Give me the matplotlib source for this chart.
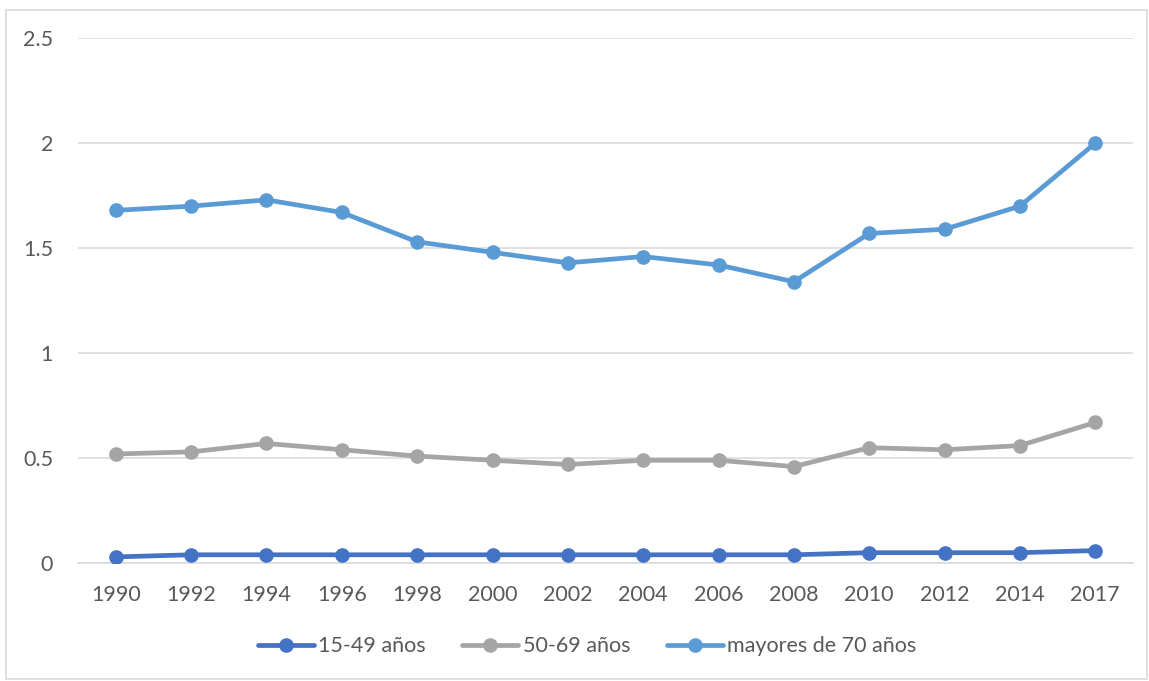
import matplotlib
matplotlib.use("Agg")
from matplotlib import pyplot as plt
from matplotlib.patches import Rectangle

# datos
years = ["1990", "1992", "1994", "1996", "1998", "2000", "2002",
         "2004", "2006", "2008", "2010", "2012", "2014", "2017"]
grupo_15_49 = [0.03, 0.04, 0.04, 0.04, 0.04, 0.04, 0.04,
               0.04, 0.04, 0.04, 0.05, 0.05, 0.05, 0.06]
grupo_50_69 = [0.52, 0.53, 0.57, 0.54, 0.51, 0.49, 0.47,
               0.49, 0.49, 0.46, 0.55, 0.54, 0.56, 0.67]
grupo_70 = [1.68, 1.70, 1.73, 1.67, 1.53, 1.48, 1.43,
            1.46, 1.42, 1.34, 1.57, 1.59, 1.70, 2.00]

plt.rcParams['font.family'] = ['Lato', 'DejaVu Sans']

fig = plt.figure(figsize=(11.49, 6.81), dpi=100)
ax = fig.add_axes([0.068, 0.173, 0.918, 0.771])

x = range(len(years))
series = [
    (grupo_15_49, "#4472C4", "15-49 años"),
    (grupo_50_69, "#A5A5A5", "50-69 años"),
    (grupo_70, "#5B9BD5", "mayores de 70 años"),
]
for vals, col, lab in series:
    ax.plot(x, vals, color=col, lw=3.4, marker="o", ms=9.5,
            solid_capstyle="round", label=lab, zorder=3)

ax.set_xlim(-0.5, len(years) - 0.5)
ax.set_ylim(0, 2.5)
ax.set_yticks([0, 0.5, 1, 1.5, 2, 2.5])
ax.set_yticklabels(["0", "0.5", "1", "1.5", "2", "2.5"])
ax.set_xticks(list(x))
ax.set_xticklabels(years)

ax.yaxis.grid(True, color="#D9D9D9", lw=1.1)
ax.set_axisbelow(True)
for s in ["top", "right", "left"]:
    ax.spines[s].set_visible(False)
ax.spines["bottom"].set_color("#D9D9D9")
ax.spines["bottom"].set_linewidth(1.1)
ax.tick_params(axis="both", length=0, labelsize=15.5, colors="#595959")
ax.tick_params(axis="x", pad=15.5)
ax.tick_params(axis="y", pad=18)

leg = fig.legend(loc="center", bbox_to_anchor=(0.511, 0.051), ncol=3,
                 frameon=False, fontsize=15.5, handlelength=2.6,
                 handletextpad=0.2, columnspacing=1.7)
for t in leg.get_texts():
    t.set_color("#595959")

# borde del grafico
fig.patches.append(Rectangle((6 / 1149, 2 / 681), 1141 / 1149, 669 / 681,
                             transform=fig.transFigure, fill=False,
                             edgecolor="#D9D9D9", lw=1.2))

fig.savefig("out.png", dpi=100)
